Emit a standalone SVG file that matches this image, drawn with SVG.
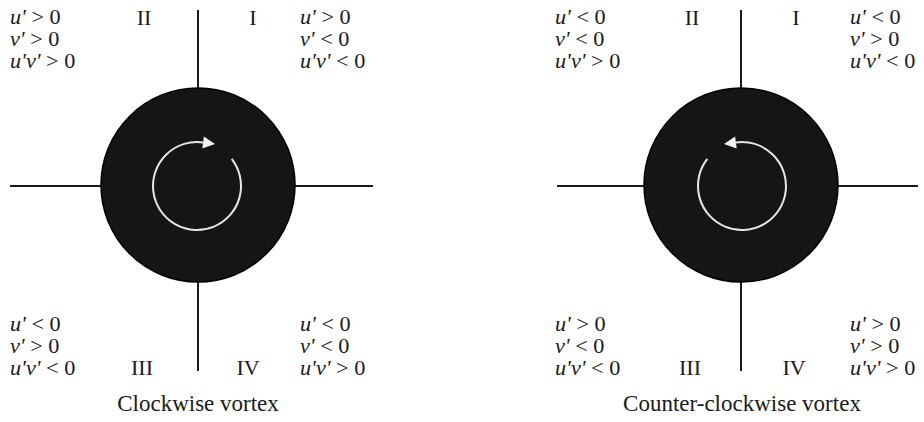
<svg xmlns="http://www.w3.org/2000/svg" width="924" height="422" viewBox="0 0 924 422">
<style>
text{font-family:"Liberation Serif","Times New Roman",serif;font-size:21px;fill:#1a1a1a}
.i{font-style:italic}
.c{text-anchor:middle;font-size:22px}
.cap{font-size:23px}
.axis{stroke:#1a1a1a;stroke-width:2;fill:none}
.disk{fill:#151515;stroke:#000;stroke-width:1.5}
.rot{stroke:#e6e6e6;stroke-width:2;fill:none}
.head{fill:#f2f2f2}
</style>
<rect width="924" height="422" fill="#ffffff"/>
<g id="connectors">
<line class="axis" x1="198" y1="10" x2="198" y2="371"/>
<line class="axis" x1="10" y1="186" x2="373" y2="186"/>
<line class="axis" x1="741" y1="10" x2="741" y2="371"/>
<line class="axis" x1="557" y1="186" x2="918" y2="186"/>
</g>
<g id="cw-vortex">
<circle class="disk" cx="198" cy="185" r="97"/>
<path class="rot" d="M231.7,158.9 A44,44 0 1 1 203.1,142.4"/>
<polygon class="head" points="215,144 202.3,148.4 203.9,136.4"/>
</g>
<g id="ccw-vortex">
<circle class="disk" cx="741" cy="185" r="97"/>
<path class="rot" d="M707.3,158.9 A44,44 0 1 0 735.9,142.4"/>
<polygon class="head" points="724,144 736.7,148.4 735.1,136.4"/>
</g>
<g id="cw-labels">
<g transform="translate(10,0) scale(1.06,1)">
<text x="0" y="24"><tspan class="i">u'</tspan> &gt; 0</text>
<text x="0" y="46"><tspan class="i">v'</tspan> &gt; 0</text>
<text x="0" y="68"><tspan class="i">u'v'</tspan> &gt; 0</text>
</g>
<text class="c" x="144" y="25">II</text>
<text class="c" x="253" y="25">I</text>
<g transform="translate(300,0) scale(1.06,1)">
<text x="0" y="24"><tspan class="i">u'</tspan> &gt; 0</text>
<text x="0" y="46"><tspan class="i">v'</tspan> &lt; 0</text>
<text x="0" y="68"><tspan class="i">u'v'</tspan> &lt; 0</text>
</g>
<g transform="translate(10,0) scale(1.06,1)">
<text x="0" y="331"><tspan class="i">u'</tspan> &lt; 0</text>
<text x="0" y="353"><tspan class="i">v'</tspan> &gt; 0</text>
<text x="0" y="375"><tspan class="i">u'v'</tspan> &lt; 0</text>
</g>
<text class="c" x="142" y="375">III</text>
<text class="c" x="248" y="375">IV</text>
<g transform="translate(300,0) scale(1.06,1)">
<text x="0" y="331"><tspan class="i">u'</tspan> &lt; 0</text>
<text x="0" y="353"><tspan class="i">v'</tspan> &lt; 0</text>
<text x="0" y="375"><tspan class="i">u'v'</tspan> &gt; 0</text>
</g>
<text class="c cap" x="198" y="411">Clockwise vortex</text>
</g>
<g id="ccw-labels">
<g transform="translate(555,0) scale(1.06,1)">
<text x="0" y="24"><tspan class="i">u'</tspan> &lt; 0</text>
<text x="0" y="46"><tspan class="i">v'</tspan> &lt; 0</text>
<text x="0" y="68"><tspan class="i">u'v'</tspan> &gt; 0</text>
</g>
<text class="c" x="692" y="25">II</text>
<text class="c" x="796" y="25">I</text>
<g transform="translate(850,0) scale(1.06,1)">
<text x="0" y="24"><tspan class="i">u'</tspan> &lt; 0</text>
<text x="0" y="46"><tspan class="i">v'</tspan> &gt; 0</text>
<text x="0" y="68"><tspan class="i">u'v'</tspan> &lt; 0</text>
</g>
<g transform="translate(555,0) scale(1.06,1)">
<text x="0" y="331"><tspan class="i">u'</tspan> &gt; 0</text>
<text x="0" y="353"><tspan class="i">v'</tspan> &lt; 0</text>
<text x="0" y="375"><tspan class="i">u'v'</tspan> &lt; 0</text>
</g>
<text class="c" x="690" y="375">III</text>
<text class="c" x="794" y="375">IV</text>
<g transform="translate(850,0) scale(1.06,1)">
<text x="0" y="331"><tspan class="i">u'</tspan> &gt; 0</text>
<text x="0" y="353"><tspan class="i">v'</tspan> &gt; 0</text>
<text x="0" y="375"><tspan class="i">u'v'</tspan> &gt; 0</text>
</g>
<text class="c cap" x="742" y="411">Counter-clockwise vortex</text>
</g>
</svg>
